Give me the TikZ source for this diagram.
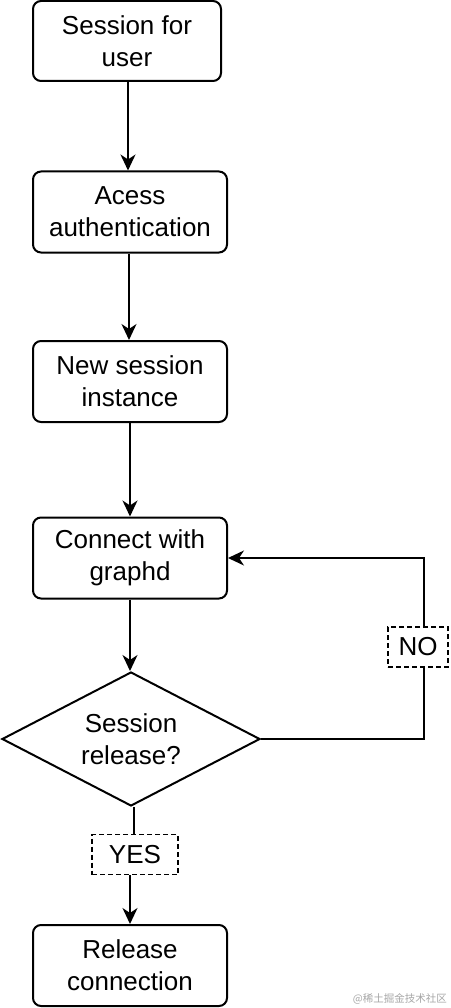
\documentclass[tikz,border=0pt]{standalone}
\usepackage{fontspec}
\setmainfont{Liberation Sans}
\newfontfamily\cjk{Noto Sans CJK SC}
\usetikzlibrary{shapes.geometric,arrows.meta}
\begin{document}
\begin{tikzpicture}[x=1pt,y=-1pt,
  every node/.style={font=\fontsize{26}{32}\selectfont, align=center, inner sep=0pt},
  procbox/.style={draw, line width=2pt, rounded corners=8pt, minimum width=194pt, minimum height=81pt},
  decbox/.style={draw, line width=2pt, diamond, aspect=1.93, minimum width=258pt, minimum height=134pt},
  lblbox/.style={draw, line width=1.6pt, dash pattern=on 5pt off 3pt, fill=white, minimum height=40pt},
  flow/.style={line width=2pt, -{Stealth[length=16pt,width=15pt,inset=5pt]}},
  link/.style={line width=2pt}
]
\useasboundingbox (0,0) rectangle (450,1008);
\node[procbox, minimum width=188pt, minimum height=80pt] (s1) at (127,41) {Session for\\user};
\node[procbox] (s2) at (130,212) {Acess\\authentication};
\node[procbox] (s3) at (130,381.5) {New session\\instance};
\node[procbox] (s4) at (130,558) {Connect with\\graphd};
\node[decbox] (d) at (131,739) {Session\\release?};
\node[procbox] (s6) at (130,965.5) {Release\\connection};
\node[lblbox, minimum width=60pt] (no) at (418,647) {NO};
\node[lblbox, minimum width=86pt] (yes) at (135,854.5) {YES};
\node[font=\cjk\fontsize{10.5}{12}\selectfont, text=black!35, anchor=east] (wm) at (447,999) {@稀土掘金技术社区};

\draw[flow] (s1.south -| 128,0) -- (s2.north -| 128,0);
\draw[flow] (s2.south -| 129,0) -- (s3.north -| 129,0);
\draw[flow] (s3.south -| 130,0) -- (s4.north -| 130,0);
\draw[flow] (s4.south -| 130,0) -- (d.north -| 130,0);
\draw[link] (d.south -| 134,0) -- (yes.north -| 134,0);
\draw[flow] (yes.south -| 130,0) -- (s6.north -| 130,0);
\draw[link] (d.east) -- (424,739) -- (no.south -| 424,0);
\draw[flow] (no.north -| 424,0) -- (424,558) -- (s4.east);
\end{tikzpicture}
\end{document}
